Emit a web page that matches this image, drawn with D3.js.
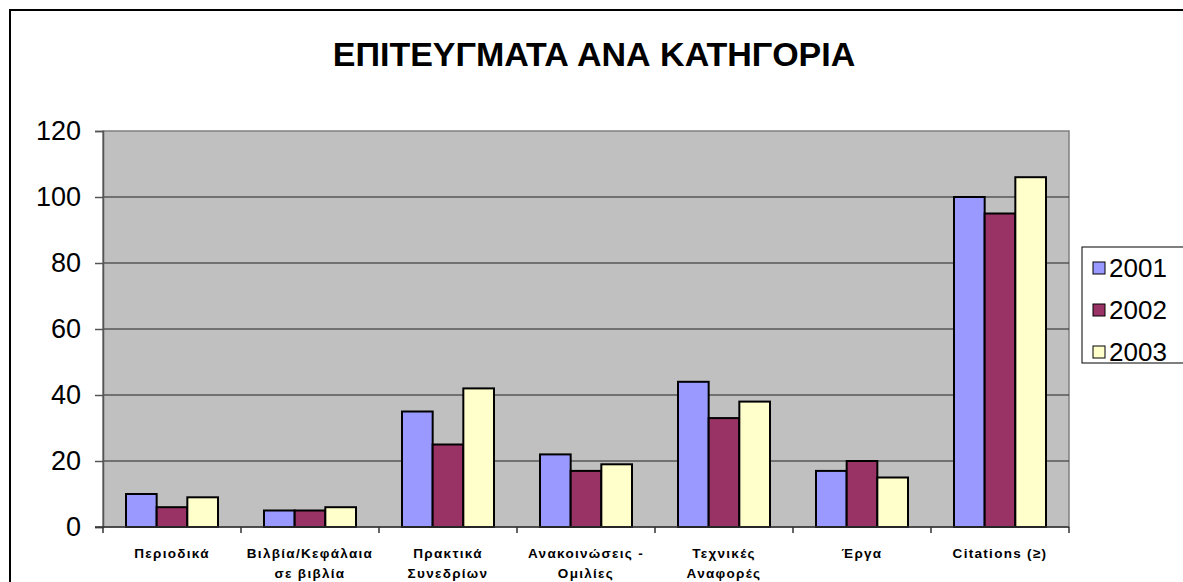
<!DOCTYPE html>
<html><head><meta charset="utf-8">
<script src="https://cdn.jsdelivr.net/npm/d3@7"></script>
<style>body{margin:0;background:#fff;}svg{display:block;font-family:"Liberation Sans",Arial,sans-serif;}</style>
</head><body><svg id="c" width="1183" height="582"></svg>
<script>
const categories = [["Περιοδικά"],["Βιλβία/Κεφάλαια","σε βιβλία"],["Πρακτικά","Συνεδρίων"],["Ανακοινώσεις -","Ομιλίες"],["Τεχνικές","Αναφορές"],["Έργα"],["Citations  (≥)"]];
const seriesNames = ["2001","2002","2003"];
const values2001 = [10,5,35,22,44,17,100];
const values2002 = [6,5,25,17,33,20,95];
const values2003 = [9,6,42,19,38,15,106];
const colors = ["#9999FF","#993366","#FFFFCC"];
const yTicks = [0,20,40,60,80,100,120];
const title = "ΕΠΙΤΕΥΓΜΑΤΑ ΑΝΑ ΚΑΤΗΓΟΡΙΑ";

const series = [values2001, values2002, values2003];
const svg = d3.select("#c");
const L=103, R=1069, T=131, B=527;

svg.append("rect").attr("x",10).attr("y",10).attr("width",1190).attr("height",600)
  .attr("fill","#fff").attr("stroke","#000").attr("stroke-width",2);

svg.append("text").attr("x",594).attr("y",66).attr("text-anchor","middle")
  .attr("font-size",34).attr("font-weight","bold").text(title);

const x = d3.scaleBand().domain(d3.range(categories.length)).range([L,R]).paddingInner(0).paddingOuter(0);
const y = d3.scaleLinear().domain([0,120]).range([B,T]);
const bw = x.bandwidth()/4.5;
const x1 = d3.scaleBand().domain(d3.range(3)).range([0,bw*3]);

svg.append("rect").attr("x",L).attr("y",T).attr("width",R-L).attr("height",B-T)
  .attr("fill","#C0C0C0").attr("stroke","#808080").attr("stroke-width",1.5);

svg.append("g").selectAll("line").data(yTicks.filter(d=>d>0&&d<120)).join("line")
  .attr("x1",L).attr("x2",R).attr("y1",d=>y(d)).attr("y2",d=>y(d))
  .attr("stroke","#222").attr("stroke-width",1);

series.forEach((vals,si)=>{
  svg.append("g").selectAll("rect").data(vals).join("rect")
    .attr("x",(d,i)=>x(i)+bw*0.75+x1(si))
    .attr("y",d=>y(d)).attr("width",x1.bandwidth()).attr("height",d=>B-y(d))
    .attr("fill",colors[si]).attr("stroke","#000").attr("stroke-width",2);
});

const ya = svg.append("g").attr("transform",`translate(${L},0)`)
  .call(d3.axisLeft(y).tickValues(yTicks).tickSize(8).tickPadding(14));
ya.select(".domain").attr("stroke","#555").attr("stroke-width",1.5);
ya.selectAll(".tick line").attr("stroke","#555").attr("stroke-width",1.5);
ya.selectAll("text").attr("font-size",27).attr("fill","#000").attr("font-family","Liberation Sans, Arial, sans-serif");

const xa = svg.append("g").attr("transform",`translate(0,${B})`);
xa.append("line").attr("x1",L-8).attr("x2",R).attr("y1",0).attr("y2",0).attr("stroke","#333").attr("stroke-width",1.5);
xa.selectAll("line.t").data(d3.range(categories.length+1)).join("line").attr("class","t")
  .attr("x1",i=>L+i*x.bandwidth()).attr("x2",i=>L+i*x.bandwidth()).attr("y1",0).attr("y2",6)
  .attr("stroke","#333").attr("stroke-width",1.5);
categories.forEach((lines,i)=>{
  const t = xa.append("text").attr("text-anchor","middle").attr("font-size",13.5).attr("font-weight","bold")
    .attr("letter-spacing",1.3);
  lines.forEach((ln,k)=>t.append("tspan").attr("x",x(i)+x.bandwidth()/2).attr("y",31+k*20).text(ln));
});

const lg = svg.append("g");
lg.append("rect").attr("x",1082).attr("y",247).attr("width",120).attr("height",116)
  .attr("fill","#fff").attr("stroke","#000").attr("stroke-width",1);
seriesNames.forEach((n,i)=>{
  const cy = 268+i*42;
  lg.append("rect").attr("x",1093).attr("y",cy-6).attr("width",12).attr("height",12)
    .attr("fill",colors[i]).attr("stroke","#000").attr("stroke-width",1);
  lg.append("text").attr("x",1109).attr("y",cy+9).attr("font-size",26).text(n);
});
</script></body></html>
